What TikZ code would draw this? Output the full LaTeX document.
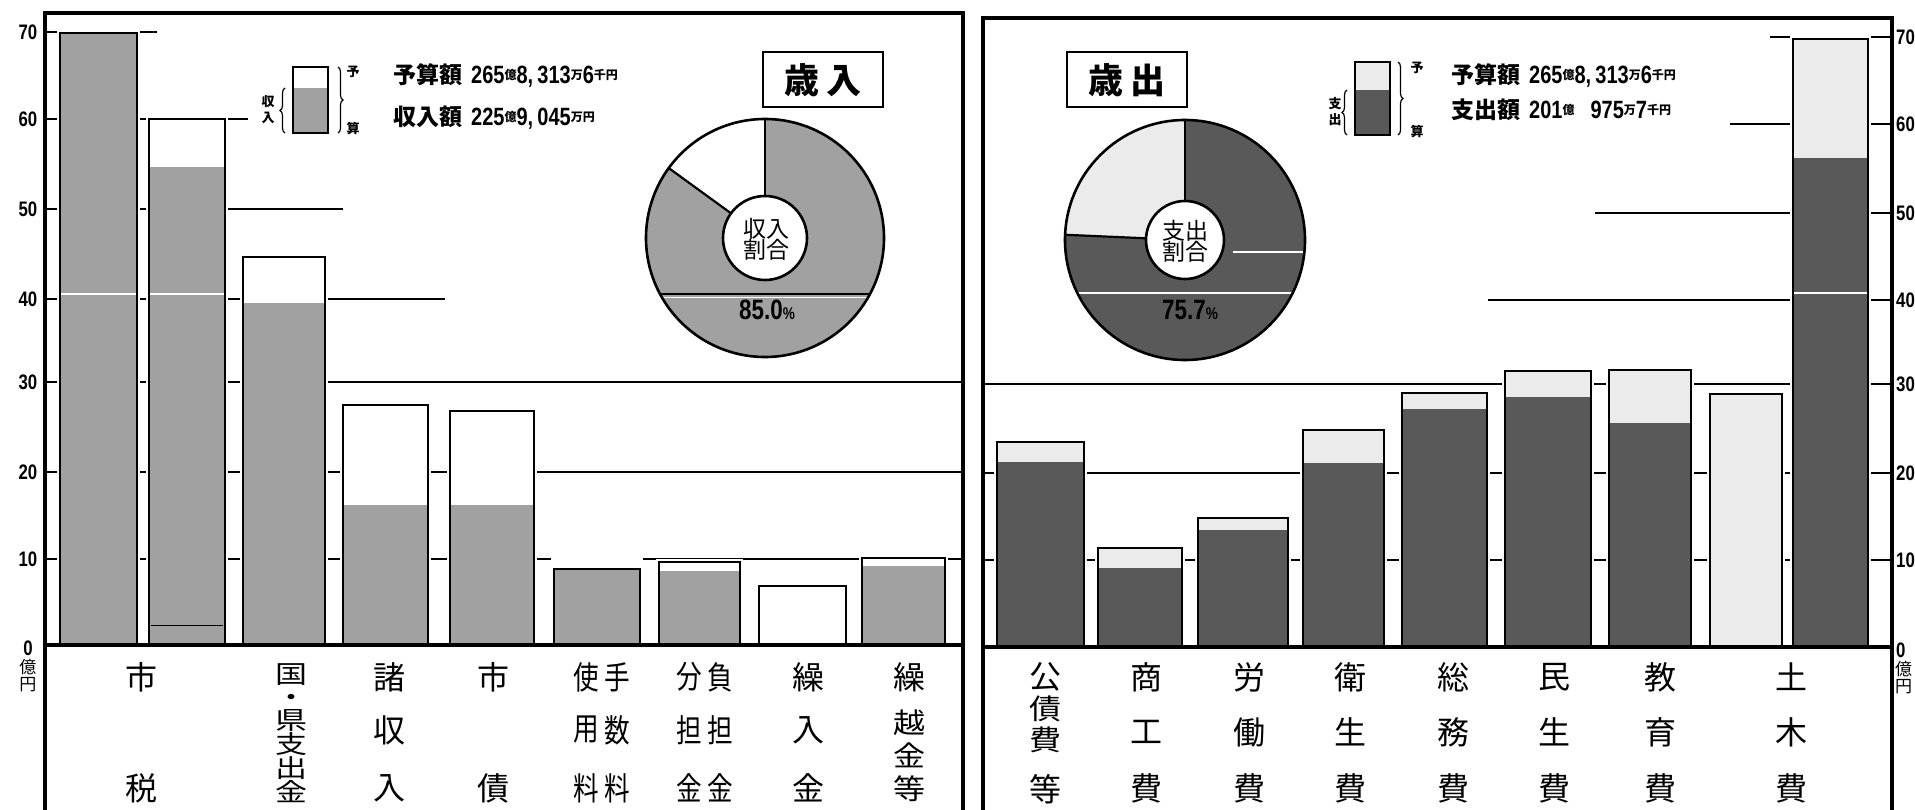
\documentclass[tikz,border=0pt]{standalone}
\usepackage{fontspec}
\usepackage{graphicx}
\setmainfont{Liberation Sans}
\newfontfamily\cjk{Noto Sans CJK JP}
\newfontfamily\dg{Liberation Sans}[FakeStretch=0.8]
\usetikzlibrary{decorations.pathreplacing}
\newcommand\fs[1]{\fontsize{#1}{#1}\selectfont}
\newcommand\un[1]{\raisebox{0.75ex}{\cjk\bfseries\fs{12}#1}}
\newcommand\dd[1]{{\dg\bfseries\fs{25}#1}}
\newcommand\sq[1]{\scalebox{1}[0.78]{#1}}
\newcommand\sqb[1]{\scalebox{1}[0.88]{#1}}
\newcommand\nr[1]{\scalebox{0.8}[1]{#1}}
\tikzset{
  frameline/.style={line width=3.2pt, line join=miter},
  gridline/.style={line width=2pt},
  barline/.style={line width=1.6pt},
  stipL/.style={fill=black!37},
  stipD/.style={fill=black!65},
  stipF/.style={fill=black!8},
  lab/.style={font=\cjk\fs{32}, inner sep=0pt},
  stack/.style={inner sep=0pt, align=center},
  tick/.style={font=\dg\bfseries\fs{21}, inner sep=0pt},
  small/.style={font=\cjk\bfseries\fs{13}, inner sep=0pt},
  unitlab/.style={font=\cjk\fs{17}, inner sep=0pt},
  legtext/.style={anchor=west, inner sep=0pt},
  titlebox/.style={draw, line width=2pt, minimum width=120pt, minimum height=55pt, font=\cjk\bfseries\fs{35}, inner sep=0pt},
  pietext/.style={font=\cjk\fs{23}, align=center, inner sep=0pt},
  pct/.style={font=\dg\bfseries\fs{28}, inner sep=0pt},
  brace/.style={decorate, decoration={brace, amplitude=5pt}, line width=1.2pt},
}
% x1 x2 top filltop fillstyle bottom halotop
\newcommand\rbar[7]{%
  \fill[white] (#1-3,#3-#7) rectangle (#2+3,#6);
  \fill[#5] (#1,#4) rectangle (#2,#6);
  \draw[barline] (#1,#6) -- (#1,#3) -- (#2,#3) -- (#2,#6);
}
\newcommand\dbar[4]{%
  \fill[white] (#1-3,#3-3) rectangle (#2+3,645);
  \fill[stipF] (#1,#3) rectangle (#2,645);
  \fill[stipD] (#1,#4) rectangle (#2,645);
  \draw[barline] (#1,645) -- (#1,#3) -- (#2,#3) -- (#2,645);
}
\newcommand\lb[4]{\node[lab] (#1) at (#2,#3) {#4};}
\begin{document}
\begin{tikzpicture}[x=1pt,y=-1pt]
\useasboundingbox (0,0) rectangle (1915,810);
\fill[white] (0,0) rectangle (1915,810);

% ================= LEFT PANEL =================
\draw[gridline] (45,32) -- (157,32);
\draw[gridline] (45,119) -- (248,119);
\draw[gridline] (45,209) -- (343,209);
\draw[gridline] (45,299) -- (445,299);
\draw[gridline] (45,382) -- (963,382);
\draw[gridline] (45,472) -- (963,472);
\draw[gridline] (45,559) -- (963,559);

\rbar{60}{137}{33}{33}{stipL}{643}{3}
\rbar{149}{225}{119}{167}{stipL}{643}{3}
\rbar{243}{325}{257}{303}{stipL}{643}{3}
\rbar{343}{428}{405}{505}{stipL}{643}{3}
\rbar{450}{534}{411}{505}{stipL}{643}{3}
\rbar{554}{640}{569}{569}{stipL}{643}{12}
\rbar{659}{740}{562}{571}{stipL}{643}{3}
\rbar{759}{846}{586}{643}{white}{643}{3}
\rbar{862}{945}{558}{566}{stipL}{643}{3}
\draw[white,line width=1.6pt] (61,294) -- (136,294) (150,294) -- (224,294);
\draw[line width=0.8pt] (151,625) -- (223,625);

\draw[frameline] (45,810) -- (45,13) -- (963,13) -- (963,810);
\draw[frameline] (45,645) -- (963,645);

\node[tick] (ly70) at (28,32) {70};
\node[tick] (ly60) at (28,119) {60};
\node[tick] (ly50) at (28,209) {50};
\node[tick] (ly40) at (28,299) {40};
\node[tick] (ly30) at (28,382) {30};
\node[tick] (ly20) at (28,472) {20};
\node[tick] (ly10) at (28,559) {10};
\node[tick] (ly0) at (28,648) {0};
\node[unitlab] (lyu1) at (28,667) {億};
\node[unitlab] (lyu2) at (28,685) {円};

% legend left
\fill[stipL] (293,88) rectangle (328,133);
\draw[line width=1.2pt] (293,67) rectangle (328,133);
\draw[brace] (285,133) -- (285,88);
\draw[brace] (338,67) -- (338,133);
\node[small] (lgs1) at (268,102) {収};
\node[small] (lgs2) at (268,118) {入};
\node[small] (lgy) at (353,72) {予};
\node[small] (lgk) at (353,128) {算};
\node[legtext] (lgt1) at (393,75) {{\cjk\bfseries\fs{23}予算額}\hspace{9pt}\dd{265}\un{億}\dd{8,\,313}\un{万}\dd{6}\un{千円}};
\node[legtext] (lgt2) at (393,118) {{\cjk\bfseries\fs{23}収入額}\hspace{9pt}\dd{225}\un{億}\dd{9,\,045}\un{万円}};

\node[titlebox] (tin) at (823,80) {歳\hspace{8pt}入};

% pie left
\coordinate (pc1) at (765,238);
\fill[stipL] (pc1) circle[radius=119pt];
\fill[white] (pc1) -- ++(90:119pt) arc[start angle=90, end angle=144, radius=119pt] -- cycle;
\begin{scope}
  \clip (pc1) circle[radius=119pt];
  \draw[line width=1.2pt] (640,294) -- (890,294);
  \draw[white, line width=1.4pt] (640,297.5) -- (890,297.5);
\end{scope}
\fill[white] (pc1) circle[radius=42pt];
\draw[line width=2.6pt] (pc1) circle[radius=119pt];
\draw[line width=2.6pt] (pc1) circle[radius=42pt];
\draw[line width=2.2pt] (pc1) ++(90:42pt) -- ++(90:77pt);
\draw[line width=2.2pt] (pc1) ++(144:42pt) -- ++(144:77pt);
\node[pietext] (pt1) at (766,239) {収入\\[-2pt]割合};
\node[pct] (pp1) at (767,310) {85.0{\fs{17}\%}};

% bottom labels left
\lb{la1}{141}{677}{市}
\lb{la2}{141}{788}{税}
\node[stack, font=\cjk\fontsize{32}{22.8}\selectfont] (lb) at (291,733) {\sq{国}\\\sq{・}\\\sq{県}\\\sq{支}\\\sq{出}\\\sq{金}};
\lb{lc1}{389}{677}{諸}
\lb{lc2}{389}{730}{収}
\lb{lc3}{389}{788}{入}
\lb{ld1}{493}{677}{市}
\lb{ld2}{493}{788}{債}
\lb{le1}{586}{677}{\nr{使}}
\lb{le2}{586}{730}{\nr{用}}
\lb{le3}{586}{788}{\nr{料}}
\lb{le4}{617}{677}{\nr{手}}
\lb{le5}{617}{730}{\nr{数}}
\lb{le6}{617}{788}{\nr{料}}
\lb{lf1}{689}{677}{\nr{分}}
\lb{lf2}{689}{730}{\nr{担}}
\lb{lf3}{689}{788}{\nr{金}}
\lb{lf4}{720}{677}{\nr{負}}
\lb{lf5}{720}{730}{\nr{担}}
\lb{lf6}{720}{788}{\nr{金}}
\lb{lg1}{808}{677}{繰}
\lb{lg2}{808}{730}{入}
\lb{lg3}{808}{788}{金}
\lb{lh1}{909}{677}{繰}
\node[stack, font=\cjk\fontsize{32}{33}\selectfont] (lh) at (909,756) {\sqb{越}\\\sqb{金}\\\sqb{等}};

% ================= RIGHT PANEL =================
\draw[gridline] (1770,37) -- (1892,37);
\draw[gridline] (1730,124) -- (1892,124);
\draw[gridline] (1595,213) -- (1892,213);
\draw[gridline] (1488,300) -- (1892,300);
\draw[gridline] (983,384) -- (1892,384);
\draw[gridline] (983,473) -- (1892,473);
\draw[gridline] (983,560) -- (1892,560);

\dbar{997}{1084}{442}{462}
\dbar{1098}{1182}{548}{568}
\dbar{1198}{1288}{518}{530}
\dbar{1303}{1384}{430}{463}
\dbar{1402}{1487}{393}{409}
\dbar{1505}{1591}{371}{397}
\dbar{1609}{1691}{370}{423}
\dbar{1710}{1782}{394}{645}
\dbar{1793}{1868}{39}{158}
\draw[white,line width=1.6pt] (1794,293) -- (1867,293);

\draw[frameline] (983,810) -- (983,18) -- (1892,18) -- (1892,810);
\draw[frameline] (983,647) -- (1892,647);

\node[tick,anchor=west] (ry70) at (1896,37) {70};
\node[tick,anchor=west] (ry60) at (1896,124) {60};
\node[tick,anchor=west] (ry50) at (1896,213) {50};
\node[tick,anchor=west] (ry40) at (1896,300) {40};
\node[tick,anchor=west] (ry30) at (1896,384) {30};
\node[tick,anchor=west] (ry20) at (1896,473) {20};
\node[tick,anchor=west] (ry10) at (1896,560) {10};
\node[tick,anchor=west] (ry0) at (1896,650) {0};
\node[unitlab,anchor=west] (ryu1) at (1895,669) {億};
\node[unitlab,anchor=west] (ryu2) at (1895,687) {円};

% legend right
\fill[stipF] (1355,62) rectangle (1390,90);
\fill[stipD] (1355,90) rectangle (1390,135);
\draw[line width=1.2pt] (1355,62) rectangle (1390,135);
\draw[brace] (1347,135) -- (1347,90);
\draw[brace] (1398,62) -- (1398,135);
\node[small] (rgs1) at (1335,104) {支};
\node[small] (rgs2) at (1335,120) {出};
\node[small] (rgy) at (1417,68) {予};
\node[small] (rgk) at (1417,131) {算};
\node[legtext] (rgt1) at (1451,75) {{\cjk\bfseries\fs{23}予算額}\hspace{9pt}\dd{265}\un{億}\dd{8,\,313}\un{万}\dd{6}\un{千円}};
\node[legtext] (rgt2) at (1451,110) {{\cjk\bfseries\fs{23}支出額}\hspace{9pt}\dd{201}\un{億}\hspace{16pt}\dd{975}\un{万}\dd{7}\un{千円}};

\node[titlebox] (tout) at (1127,80) {歳\hspace{8pt}出};

% pie right
\coordinate (pc2) at (1185,240);
\fill[stipD] (pc2) circle[radius=120pt];
\fill[stipF] (pc2) -- ++(90:120pt) arc[start angle=90, end angle=177.5, radius=120pt] -- cycle;
\begin{scope}
  \clip (pc2) circle[radius=120pt];
  \draw[white, line width=1.4pt] (1060,293) -- (1310,293);
  \draw[white, line width=1.2pt] (1233,252) -- (1310,252);
\end{scope}
\fill[white] (pc2) circle[radius=39pt];
\draw[line width=2.6pt] (pc2) circle[radius=120pt];
\draw[line width=2.6pt] (pc2) circle[radius=39pt];
\draw[line width=2.2pt] (pc2) ++(90:39pt) -- ++(90:81pt);
\draw[line width=2.2pt] (pc2) ++(177.5:39pt) -- ++(177.5:81pt);
\node[pietext] (pt2) at (1185,241) {支出\\[-2pt]割合};
\node[pct] (pp2) at (1190,310) {75.7{\fs{17}\%}};

% bottom labels right
\node[stack, font=\cjk\fontsize{32}{31}\selectfont] (ra) at (1045,708) {公\\\sqb{債}\\\sqb{費}};
\lb{ra4}{1045}{789}{等}
\lb{rb1}{1146}{677}{商}
\lb{rb2}{1146}{732}{工}
\lb{rb3}{1146}{788}{費}
\lb{rc1}{1249}{677}{労}
\lb{rc2}{1249}{732}{働}
\lb{rc3}{1249}{788}{費}
\lb{rd1}{1350}{677}{衛}
\lb{rd2}{1350}{732}{生}
\lb{rd3}{1350}{788}{費}
\lb{re1}{1453}{677}{総}
\lb{re2}{1453}{732}{務}
\lb{re3}{1453}{788}{費}
\lb{rf1}{1554}{677}{民}
\lb{rf2}{1554}{732}{生}
\lb{rf3}{1554}{788}{費}
\lb{rg1}{1660}{677}{教}
\lb{rg2}{1660}{732}{育}
\lb{rg3}{1660}{788}{費}
\lb{rh1}{1791}{677}{土}
\lb{rh2}{1791}{732}{木}
\lb{rh3}{1791}{788}{費}
\end{tikzpicture}
\end{document}
